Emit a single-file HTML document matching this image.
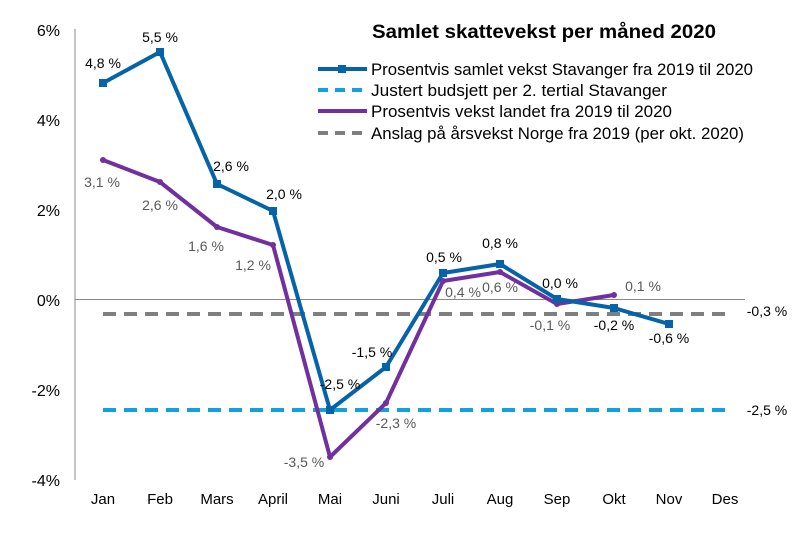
<!DOCTYPE html>
<html><head><meta charset="utf-8"><style>
body{margin:0;background:#fff}
svg{display:block;font-family:"Liberation Sans",sans-serif}
</style></head><body>
<svg width="800" height="549" viewBox="0 0 800 549" xmlns="http://www.w3.org/2000/svg">
<rect width="800" height="549" fill="#fff"/>
<line x1="75" y1="29" x2="75" y2="480" stroke="#888" stroke-width="1"/>
<line x1="75" y1="299.5" x2="745" y2="299.5" stroke="#888" stroke-width="1"/>
<g font-size="16" fill="#000" text-anchor="end">
<text x="60" y="36">6%</text>
<text x="60" y="126">4%</text>
<text x="60" y="216">2%</text>
<text x="60" y="306">0%</text>
<text x="60" y="396">-2%</text>
<text x="60" y="486">-4%</text>
</g>
<g font-size="15" fill="#000" text-anchor="middle">
<text x="103" y="504">Jan</text><text x="160" y="504">Feb</text><text x="217" y="504">Mars</text>
<text x="273" y="504">April</text><text x="330" y="504">Mai</text><text x="386" y="504">Juni</text>
<text x="443" y="504">Juli</text><text x="500" y="504">Aug</text><text x="557" y="504">Sep</text>
<text x="614" y="504">Okt</text><text x="669" y="504">Nov</text><text x="725" y="504">Des</text>
</g>
<line x1="103" y1="314" x2="725" y2="314" stroke="#7f7f7f" stroke-width="4" stroke-dasharray="13,8"/>
<line x1="103" y1="410" x2="725" y2="410" stroke="#13a0df" stroke-width="4" stroke-dasharray="13,8"/>
<polyline fill="none" stroke="#7030a0" stroke-width="4" stroke-linejoin="round" points="103,160 160,182 217,227 273,245 330,457 386,403 443,281 500,272 557,304 614,295"/>
<g fill="#7030a0">
<circle cx="103" cy="160" r="3"/><circle cx="160" cy="182" r="3"/><circle cx="217" cy="227" r="3"/><circle cx="273" cy="245" r="3"/><circle cx="330" cy="457" r="3"/><circle cx="386" cy="403" r="3"/><circle cx="443" cy="281" r="3"/><circle cx="500" cy="272" r="3"/><circle cx="557" cy="304" r="3"/><circle cx="614" cy="295" r="3"/>
</g>
<polyline fill="none" stroke="#0563a8" stroke-width="4" stroke-linejoin="round" points="103,83 160,52 217,184 273,211 330,410 386,367 443,273 500,264 557,299 614,308 669,324"/>
<g fill="#0563a8">
<rect x="99" y="79" width="8" height="8"/><rect x="156" y="48" width="8" height="8"/><rect x="213" y="180" width="8" height="8"/><rect x="269" y="207" width="8" height="8"/><rect x="326" y="406" width="8" height="8"/><rect x="382" y="363" width="8" height="8"/><rect x="439" y="269" width="8" height="8"/><rect x="496" y="260" width="8" height="8"/><rect x="553" y="295" width="8" height="8"/><rect x="610" y="304" width="8" height="8"/><rect x="665" y="320" width="8" height="8"/>
</g>
<g font-size="14" fill="#000" text-anchor="middle">
<text x="103" y="68">4,8 %</text><text x="160" y="42">5,5 %</text><text x="231" y="171">2,6 %</text><text x="284" y="199">2,0 %</text>
<text x="340" y="389">-2,5 %</text><text x="372" y="357">-1,5 %</text><text x="444" y="262">0,5 %</text><text x="500" y="248">0,8 %</text>
<text x="560" y="288">0,0 %</text><text x="614" y="330">-0,2 %</text><text x="669" y="343">-0,6 %</text>
<text x="767" y="316">-0,3 %</text><text x="767" y="415">-2,5 %</text>
</g>
<g font-size="14" fill="#595959" text-anchor="middle">
<text x="102" y="187">3,1 %</text><text x="160" y="210">2,6 %</text><text x="206" y="251">1,6 %</text><text x="253" y="270">1,2 %</text>
<text x="304" y="467">-3,5 %</text><text x="396" y="428">-2,3 %</text><text x="463" y="297">0,4 %</text><text x="500" y="292">0,6 %</text>
<text x="550" y="330">-0,1 %</text><text x="643" y="291">0,1 %</text>
</g>
<text x="372" y="38" font-size="19" font-weight="bold" fill="#000" textLength="344" lengthAdjust="spacingAndGlyphs">Samlet skattevekst per måned 2020</text>
<g font-size="16.5" fill="#000">
<line x1="318" y1="69" x2="367" y2="69" stroke="#0563a8" stroke-width="4"/><rect x="338" y="65" width="8" height="8" fill="#0563a8"/>
<text x="371" y="75" textLength="382" lengthAdjust="spacingAndGlyphs">Prosentvis samlet vekst Stavanger fra 2019 til 2020</text>
<line x1="318" y1="90" x2="367" y2="90" stroke="#13a0df" stroke-width="4" stroke-dasharray="10,7"/>
<text x="371" y="96" textLength="296" lengthAdjust="spacingAndGlyphs">Justert budsjett per 2. tertial Stavanger</text>
<line x1="318" y1="111" x2="367" y2="111" stroke="#7030a0" stroke-width="4"/>
<text x="371" y="117" textLength="301" lengthAdjust="spacingAndGlyphs">Prosentvis vekst landet fra 2019 til 2020</text>
<line x1="318" y1="133" x2="367" y2="133" stroke="#7f7f7f" stroke-width="4" stroke-dasharray="10,7"/>
<text x="371" y="139" textLength="373" lengthAdjust="spacingAndGlyphs">Anslag på årsvekst Norge fra 2019 (per okt. 2020)</text>
</g>
</svg>
</body></html>
